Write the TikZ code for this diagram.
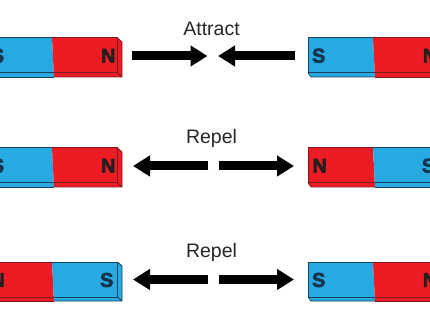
\documentclass[tikz,border=0pt]{standalone}
\usepackage{fontspec}
\setmainfont{Liberation Sans}
\newfontfamily\polefont{Liberation Sans}[BoldFeatures={FakeBold=3}]
\usetikzlibrary{arrows.meta}
\definecolor{magred}{HTML}{ED1C24}
\definecolor{magblue}{HTML}{27AAE1}
\definecolor{edgered}{HTML}{7E1A1E}
\definecolor{edgeblue}{HTML}{17425E}
\definecolor{inkred}{HTML}{231F20}
\definecolor{inkblue}{HTML}{16344C}
\tikzset{
  x=1pt, y=-1pt,
  force/.style={line width=9pt, black, -{Triangle[length=17pt,width=20pt]}},
  caption/.style={font=\fontsize{19.5}{20}\selectfont, text=black!85, inner sep=0pt},
  pole/.style={font=\fontsize{20}{21}\selectfont\polefont\bfseries, inner sep=0pt},
  poleN/.style={pole, text=inkred},
  poleS/.style={pole, text=inkblue},
}
% Bar magnet cut by the left margin: end face shows on its right.
% #1 top y, #2 left colour, #3 left edge, #4 right colour, #5 right edge
\newcommand{\barleft}[5]{%
  \fill[#2] (-10,#1) -- (52,#1) -- (54,#1+39) -- (-10,#1+39) -- cycle;
  \fill[#4] (52,#1) -- (117.5,#1) -- (122,#1+4) -- (122,#1+39) -- (54,#1+39) -- cycle;
  \draw[#3, line width=1pt] (52,#1) -- (-10,#1) (-10,#1+35) -- (53,#1+35);
  \draw[#3, line width=.6pt] (-10,#1+39) -- (54,#1+39);
  \draw[#5, line width=1pt] (52,#1) -- (117.5,#1) -- (117.5,#1+35) -- (53,#1+35);
  \draw[#5, line width=.8pt] (117.5,#1) -- (122,#1+4) -- (122,#1+39) -- (54,#1+39) (117.5,#1+35) -- (122,#1+39);
}
% Bar magnet cut by the right margin: chamfered lower left corner.
\newcommand{\barright}[5]{%
  \fill[#2] (308,#1) -- (373,#1) -- (375,#1+39) -- (311,#1+39) -- (308,#1+35) -- cycle;
  \fill[#4] (373,#1) -- (440,#1) -- (440,#1+39) -- (375,#1+39) -- cycle;
  \draw[#3, line width=1pt] (373,#1) -- (308,#1) -- (308,#1+35) -- (374,#1+35);
  \draw[#3, line width=.7pt] (308,#1+35) -- (311,#1+39) -- (375,#1+39);
  \draw[#5, line width=1pt] (373,#1) -- (440,#1) (374,#1+35) -- (440,#1+35);
  \draw[#5, line width=.6pt] (375,#1+39) -- (440,#1+39);
}
\begin{document}
\begin{tikzpicture}
\useasboundingbox (0,0) rectangle (430,320);
\clip (0,0) rectangle (430,320);

% Attracting pair
\barleft{38}{magblue}{edgeblue}{magred}{edgered}
\barright{38}{magblue}{edgeblue}{magred}{edgered}
\node[poleS] (a1) at (-2.5,55.7) {S};
\node[poleN] (a2) at (108.3,55.7) {N};
\node[poleS] (a3) at (318.7,55.7) {S};
\node[poleN] (a4) at (430,55.7) {N};
\node[caption] (attract) at (211.5,28.5) {Attract};
\coordinate (a5) at (132,56);
\coordinate (a6) at (207.5,56);
\coordinate (a7) at (295,56);
\coordinate (a8) at (218,56);
\draw[force] (a5) -- (a6);
\draw[force] (a7) -- (a8);

% Repelling pair, N facing N
\barleft{148}{magblue}{edgeblue}{magred}{edgered}
\barright{148}{magred}{edgered}{magblue}{edgeblue}
\node[poleS] (b1) at (-2.5,165.7) {S};
\node[poleN] (b2) at (108.3,165.7) {N};
\node[poleN] (b3) at (319.7,165.7) {N};
\node[poleS] (b4) at (428.5,165.7) {S};
\node[caption] (repela) at (211.5,138.5) {Repel};
\coordinate (b5) at (208,166);
\coordinate (b6) at (133,166);
\coordinate (b7) at (218.5,166);
\coordinate (b8) at (294,166);
\draw[force] (b5) -- (b6);
\draw[force] (b7) -- (b8);

% Repelling pair, S facing S
\barleft{262}{magred}{edgered}{magblue}{edgeblue}
\barright{262}{magblue}{edgeblue}{magred}{edgered}
\node[poleN] (c1) at (-2.5,280) {N};
\node[poleS] (c2) at (106.7,280) {S};
\node[poleS] (c3) at (318.7,280) {S};
\node[poleN] (c4) at (430,280) {N};
\node[caption] (repelb) at (211.5,252.5) {Repel};
\coordinate (c5) at (208,279.5);
\coordinate (c6) at (133,279.5);
\coordinate (c7) at (218.5,279.5);
\coordinate (c8) at (294,279.5);
\draw[force] (c5) -- (c6);
\draw[force] (c7) -- (c8);
\end{tikzpicture}
\end{document}
